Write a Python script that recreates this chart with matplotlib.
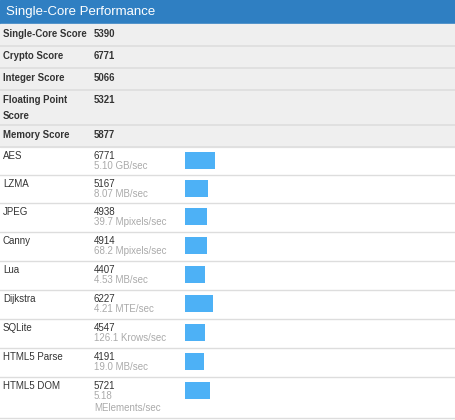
import matplotlib
matplotlib.use("Agg")
import matplotlib.pyplot as plt
from matplotlib.patches import Rectangle

# summary scores (grey rows)
summary_labels = ["Single-Core Score", "Crypto Score", "Integer Score", "Floating Point\nScore", "Memory Score"]
summary_values = [5390, 6771, 5066, 5321, 5877]

# workloads
work_labels = ["AES", "LZMA", "JPEG", "Canny", "Lua", "Dijkstra", "SQLite", "HTML5 Parse", "HTML5 DOM"]
work_scores = [6771, 5167, 4938, 4914, 4407, 6227, 4547, 4191, 5721]
work_rates = ["5.10 GB/sec", "8.07 MB/sec", "39.7 Mpixels/sec", "68.2 Mpixels/sec", "4.53 MB/sec",
              "4.21 MTE/sec", "126.1 Krows/sec", "19.0 MB/sec", "5.18\nMElements/sec"]

W, H = 456, 420
fig = plt.figure(figsize=(W / 100, H / 100), dpi=100)
ax = fig.add_axes([0, 0, 1, 1])
ax.set_xlim(0, W)
ax.set_ylim(H, 0)
ax.axis("off")

font = "Liberation Sans"
ax.add_patch(Rectangle((0, 0), W, 24, color="#2f7fc2"))
ax.text(6, 12, "Single-Core Performance", color="white", fontsize=9.5, va="center", family=font)

sum_heights = [22, 22, 22, 35, 22]
y = 24
for lab, val, h in zip(summary_labels, summary_values, sum_heights):
    ax.add_patch(Rectangle((0, y), W, h, color="#efefef"))
    ax.text(3, y + 5, lab, fontsize=6.9, fontweight="bold", color="#333333", va="top", family=font,
            linespacing=1.75)
    ax.text(94, y + 5, str(val), fontsize=6.9, fontweight="bold", color="#333333", va="top", family=font)
    ax.plot([0, W], [y + h, y + h], color="#dddddd", lw=1.2)
    y += h

work_heights = [28, 28, 29, 29, 29, 29, 29, 29, 41]
scale = 30 / 6771
for lab, sc, rate, h in zip(work_labels, work_scores, work_rates, work_heights):
    ax.text(3, y + 4, lab, fontsize=7, color="#333333", va="top", family=font)
    ax.text(94, y + 4, str(sc), fontsize=7, color="#333333", va="top", family=font)
    ax.text(94, y + 14, rate, fontsize=7, color="#aaaaaa", va="top", family=font, linespacing=1.2)
    ax.barh(y + 5 + 8.5, sc * scale, height=17, left=185, color="#4db1f6")
    ax.plot([0, W], [y + h, y + h], color="#dddddd", lw=1.0)
    y += h

fig.savefig("out.png", dpi=100, facecolor="white")
